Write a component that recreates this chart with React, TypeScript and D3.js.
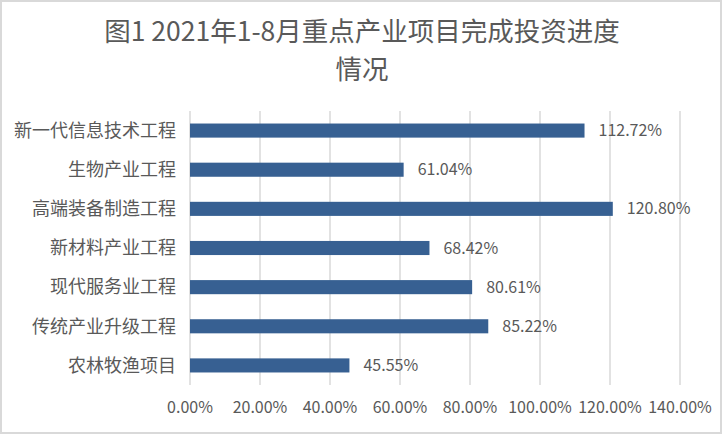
import React from "react";
import * as d3 from "d3";

const categories: string[] = [
  "新一代信息技术工程",
  "生物产业工程",
  "高端装备制造工程",
  "新材料产业工程",
  "现代服务业工程",
  "传统产业升级工程",
  "农林牧渔项目",
];

const progress: number[] = [1.1272, 0.6104, 1.208, 0.6842, 0.8061, 0.8522, 0.4555];

const ticks: number[] = [0, 0.2, 0.4, 0.6, 0.8, 1.0, 1.2, 1.4];

const titleLines: string[] = ["图1 2021年1-8月重点产业项目完成投资进度", "情况"];

const W = 722;
const H = 434;
const margin = { top: 111, right: 42, bottom: 49, left: 190 };
const textColor = "#595959";
const barColor = "#376092";
const gridColor = "#d9d9d9";
const font = "'Noto Sans CJK SC', 'Noto Sans', sans-serif";

const App: React.FC = () => {
  const x = d3
    .scaleLinear()
    .domain([0, 1.4])
    .range([margin.left, W - margin.right]);

  const y = d3
    .scaleBand<string>()
    .domain(categories)
    .range([margin.top, H - margin.bottom])
    .paddingInner(0.64)
    .paddingOuter(0.32);

  const fmt = d3.format(".2%");

  return (
    <svg
      width={W}
      height={H}
      style={{ position: "absolute", left: 0, top: 0, fontFamily: font }}
    >
      <rect x={0} y={0} width={W} height={H} fill="#ffffff" />
      <rect
        x={1}
        y={1}
        width={W - 2}
        height={H - 2}
        fill="none"
        stroke={gridColor}
        strokeWidth={2}
      />

      {titleLines.map((t, i) => (
        <text
          key={i}
          x={W / 2 + 1}
          y={41 + i * 38}
          textAnchor="middle"
          fontSize={26.5}
          fill={textColor}
        >
          {t}
        </text>
      ))}

      {ticks.map((t) => (
        <g key={t}>
          <line
            x1={x(t)}
            x2={x(t)}
            y1={margin.top}
            y2={H - margin.bottom}
            stroke={gridColor}
            strokeWidth={1.5}
          />
          <text
            x={x(t)}
            y={413}
            textAnchor="middle"
            fontSize={16}
            fill={textColor}
          >
            {fmt(t)}
          </text>
        </g>
      ))}

      {categories.map((c, i) => {
        const yc = (y(c) || 0) + y.bandwidth() / 2;
        return (
          <g key={c}>
            <rect
              x={x(0)}
              y={y(c)}
              width={x(progress[i]) - x(0)}
              height={y.bandwidth()}
              fill={barColor}
            />
            <text
              x={x(0) - 14}
              y={yc}
              dy="0.35em"
              textAnchor="end"
              fontSize={18}
              fill={textColor}
            >
              {c}
            </text>
            <text
              x={x(progress[i]) + 14}
              y={yc}
              dy="0.35em"
              fontSize={16}
              fill={textColor}
            >
              {fmt(progress[i])}
            </text>
          </g>
        );
      })}
    </svg>
  );
};

export default App;
